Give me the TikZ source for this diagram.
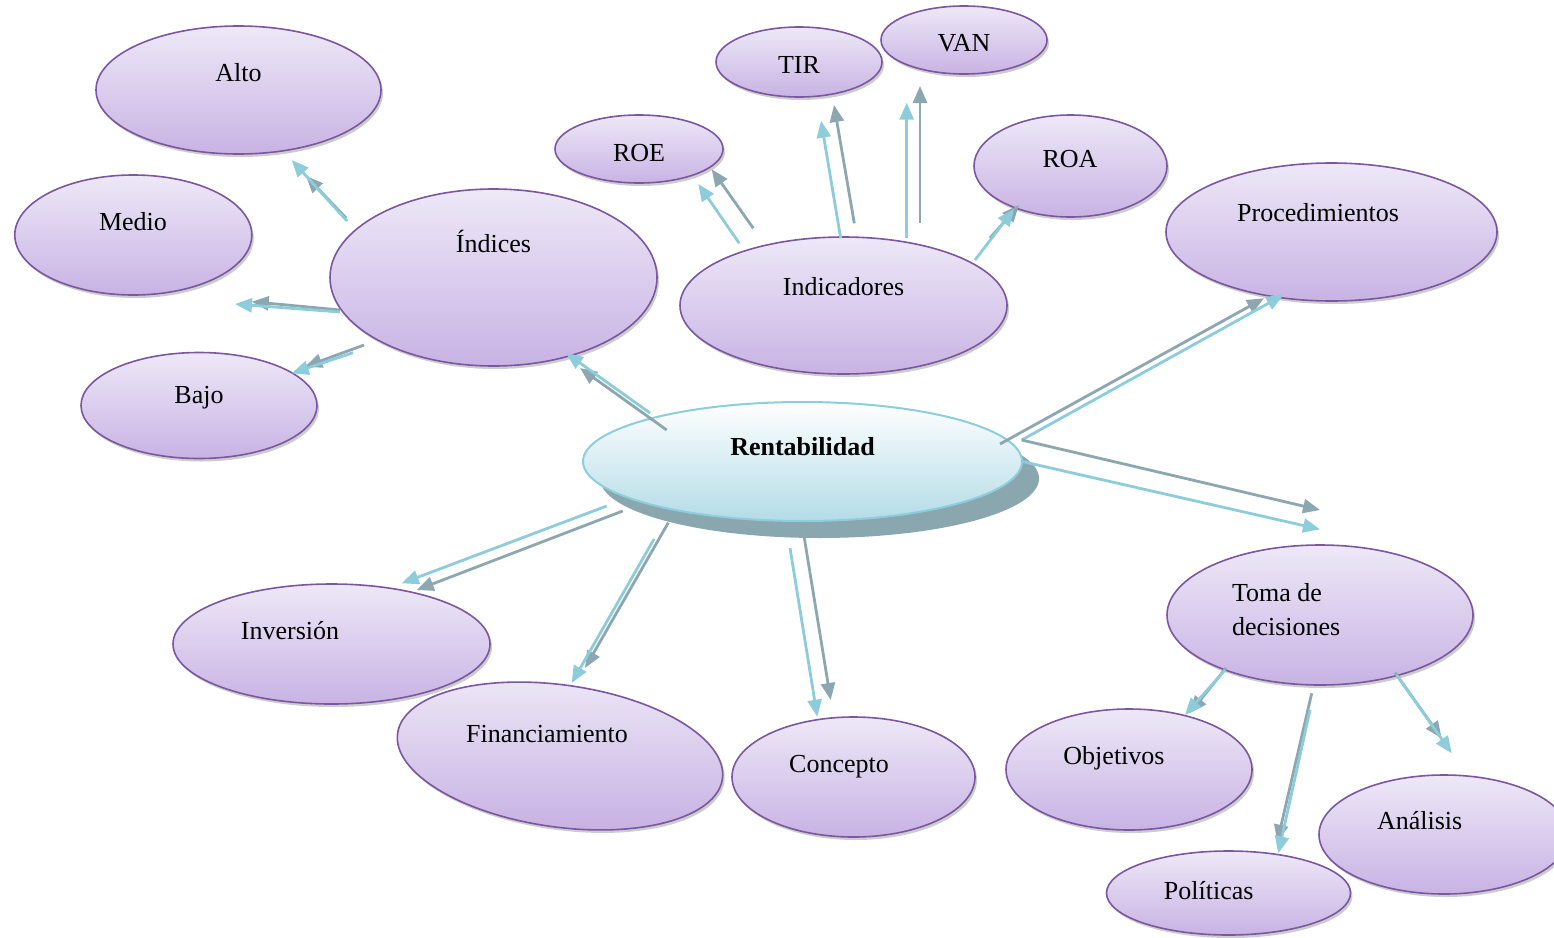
\documentclass[tikz,border=0pt]{standalone}
\usepackage{fontspec}
\setmainfont{Liberation Serif}
\usetikzlibrary{shapes.geometric,arrows.meta,shadows}

\definecolor{bubbleTop}{HTML}{EEE8F7}
\definecolor{bubbleBot}{HTML}{C8B3E4}
\definecolor{bubbleLine}{HTML}{7A579F}
\definecolor{coreBot}{HTML}{B3DCE7}
\definecolor{coreLine}{HTML}{8ECEDC}
\definecolor{coreShade}{HTML}{8AA7AF}
\definecolor{linkBlue}{HTML}{8DCCDA}
\definecolor{linkGrey}{HTML}{8CA7AF}

\tikzset{
  bubble/.style={ellipse, draw=bubbleLine, line width=1.6pt,
    top color=bubbleTop, bottom color=bubbleBot, inner sep=0pt, outer sep=0pt,
    drop shadow={shadow xshift=2pt, shadow yshift=-3pt, opacity=0.28, fill=black!70}},
  txt/.style={font=\fontsize{26}{31}\selectfont, anchor=base, inner sep=0pt, outer sep=0pt},
  tipshape/.style={-{Triangle[length=17pt,width=14pt]}},
  linkA/.style={draw=linkBlue, line width=2.8pt, tipshape},
  linkB/.style={draw=linkGrey, line width=2.8pt, tipshape},
}

% ellipse bubble: name, centre x, centre y, width, height
\newcommand\bubblenode[5]{\node[bubble, minimum width=#4pt, minimum height=#5pt] (#1) at (#2,#3) {};}
% arrow with named ends: name, style, x1, y1, x2, y2
\newcommand\linkarrow[6]{%
  \coordinate (#1-s) at (#3,#4);
  \coordinate (#1-e) at (#5,#6);
  \draw[#2] (#1-s) -- (#1-e);}

\begin{document}
\begin{tikzpicture}[x=1pt, y=-1pt]
\useasboundingbox (0,0) rectangle (1554,937);

% outer bubbles
\bubblenode{alto}{238.5}{90}{285}{128}
\bubblenode{medio}{133.3}{235}{237}{120}
\bubblenode{bajo}{199}{405.5}{236}{106}
\bubblenode{indices}{493.5}{277.5}{327}{177}
\bubblenode{roe}{639}{149}{168}{68}
\bubblenode{tir}{799}{62}{166}{70}
\bubblenode{van}{964}{40}{166}{68}
\bubblenode{roa}{1070.5}{166}{193}{102}
\bubblenode{proc}{1331.5}{232}{331}{138}
\bubblenode{indic}{843.5}{305.5}{327}{137}
\bubblenode{toma}{1320}{615}{306}{140}
\bubblenode{inver}{331.5}{644}{317}{120}
\node[bubble, rotate=-8, minimum width=328pt, minimum height=142pt] (finan) at (560,756) {};
\bubblenode{concep}{853.5}{777}{243}{120}
\bubblenode{objet}{1129}{769.5}{246}{121}
\bubblenode{anal}{1444}{834.5}{250}{119}
\bubblenode{polit}{1228.5}{893}{244}{84}

% central bubble with its solid shadow
\node[ellipse, fill=coreShade, inner sep=0pt, minimum width=439pt, minimum height=119pt] (coreshadow) at (819.5,478.5) {};
\node[ellipse, draw=coreLine, line width=2pt, top color=white, bottom color=coreBot,
      inner sep=0pt, minimum width=439pt, minimum height=119pt] (core) at (802.5,461.5) {};

% texts
\node[txt] (alto-t) at (238.5,81) {Alto};
\node[txt] (medio-t) at (133,230) {Medio};
\node[txt] (bajo-t) at (199,403) {Bajo};
\node[txt] (indices-t) at (493.5,252) {Índices};
\node[txt] (roe-t) at (639,161) {ROE};
\node[txt] (tir-t) at (799,73) {TIR};
\node[txt] (van-t) at (964,51) {VAN};
\node[txt] (roa-t) at (1070,167) {ROA};
\node[txt] (proc-t) at (1318,221) {Procedimientos};
\node[txt] (indic-t) at (843.5,295) {Indicadores};
\node[txt, font=\fontsize{26}{31}\selectfont\bfseries] (core-t) at (802.5,455) {Rentabilidad};
\node[txt, anchor=base west] (toma-t1) at (1232,601.7) {Toma de};
\node[txt, anchor=base west] (toma-t2) at (1232,635.2) {decisiones};
\node[txt] (inver-t) at (290,639) {Inversión};
\node[txt] (finan-t) at (547,742.7) {Financiamiento};
\node[txt] (concep-t) at (839,772) {Concepto};
\node[txt] (objet-t) at (1114,764) {Objetivos};
\node[txt] (anal-t) at (1419.7,829) {Análisis};
\node[txt] (polit-t) at (1208.7,899) {Políticas};

% Índices branches
\linkarrow{ia-g}{linkB}{346}{218}{306}{176}
\linkarrow{ia-b}{linkA}{347}{221}{291.7}{160}
\linkarrow{im-g}{linkB}{340}{310}{251.7}{301.7}
\linkarrow{im-b}{linkA}{340}{312}{235}{304}
\linkarrow{ib-g}{linkB}{364}{345}{305}{366.7}
\linkarrow{ib-b}{linkA}{353}{352.7}{291.7}{373.3}

% Indicadores branches
\linkarrow{nr-g}{linkB}{753.3}{228.3}{711.7}{169.3}
\linkarrow{nr-b}{linkA}{739.3}{243.3}{698.3}{184}
\linkarrow{nt-g}{linkB}{854.3}{223.3}{834}{105}
\linkarrow{nt-b}{linkA}{840.7}{238.3}{821}{120.7}
\linkarrow{nv-g}{linkB}{920}{222.7}{920}{86}
\linkarrow{nv-b}{linkA}{906.7}{238.3}{906.7}{102.7}
\linkarrow{na-g}{linkB}{990}{238}{1019}{205}
\linkarrow{na-b}{linkA}{975}{260}{1014}{209}

% Rentabilidad branches
\linkarrow{ci-g}{linkB}{666.7}{430}{580}{368}
\linkarrow{ci-b}{linkA}{650}{413}{566}{353}
\linkarrow{cp-g}{linkB}{1000}{444}{1264}{298.3}
\linkarrow{cp-b}{linkA}{1021.7}{440}{1283.3}{295}
\linkarrow{ct-g}{linkB}{1021.7}{440}{1320}{510}
\linkarrow{ct-b}{linkA}{1023}{461.7}{1320}{529.3}
\linkarrow{cv-b}{linkA}{606.7}{506}{401.7}{583.3}
\linkarrow{cv-g}{linkB}{622.7}{511}{416.7}{590}
\linkarrow{cf-g}{linkB}{668.3}{522.7}{585}{668}
\linkarrow{cf-b}{linkA}{654}{539}{571.7}{683}
\linkarrow{cc-b}{linkA}{790}{548}{817.3}{716.7}
\linkarrow{cc-g}{linkB}{803.3}{531.7}{830.7}{700}

% Toma de decisiones branches
\linkarrow{to-g}{linkB}{1226}{668}{1190}{713}
\linkarrow{to-b}{linkA}{1225}{670}{1185}{715}
\linkarrow{tp-g}{linkB}{1311.7}{693.3}{1277.3}{841.7}
\linkarrow{tp-b}{linkA}{1310}{710}{1278.3}{853.3}
\linkarrow{tn-g}{linkB}{1395}{672.7}{1441.7}{738.3}
\linkarrow{tn-b}{linkA}{1396.7}{675}{1451.7}{753.3}
\end{tikzpicture}
\end{document}
